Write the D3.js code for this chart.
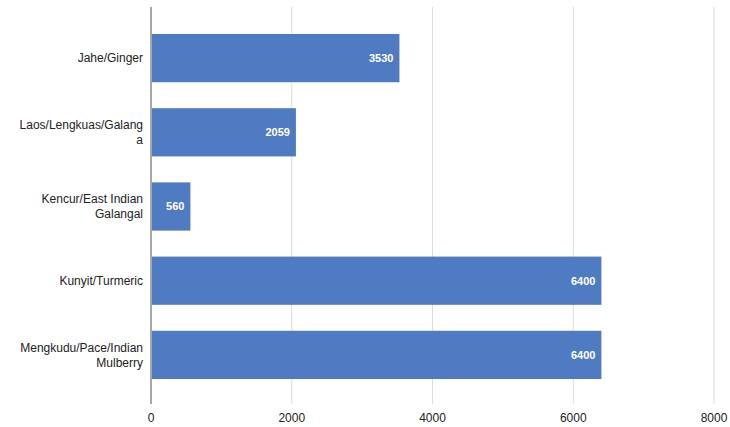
<!DOCTYPE html>
<html>
<head>
<meta charset="utf-8">
<script src="https://cdn.jsdelivr.net/npm/d3@7"></script>
<style>
html,body{margin:0;padding:0;background:#fff;}
svg{display:block;}
</style>
</head>
<body>
<svg id="chart" width="730" height="427"></svg>
<script>
const categories = [
  ["Jahe/Ginger"],
  ["Laos/Lengkuas/Galang", "a"],
  ["Kencur/East Indian", "Galangal"],
  ["Kunyit/Turmeric"],
  ["Mengkudu/Pace/Indian", "Mulberry"]
];
const values = [3530, 2059, 560, 6400, 6400];
const valueLabels = ["3530", "2059", "560", "6400", "6400"];
const xTicks = [0, 2000, 4000, 6000, 8000];

const svg = d3.select("#chart");
const font = "'Liberation Sans', Arial, sans-serif";

const x = d3.scaleLinear().domain([0, 8000]).range([151, 714]);
const y = d3.scaleBand().domain(d3.range(categories.length)).range([21, 392]).paddingInner(0.35).paddingOuter(0.175);

const plotTop = 7, plotBottom = 404;

// gridlines
svg.append("g").selectAll("line").data(xTicks.filter(d => d > 0)).join("line")
  .attr("x1", d => x(d)).attr("x2", d => x(d))
  .attr("y1", plotTop).attr("y2", plotBottom)
  .attr("stroke", "#dcdcdc").attr("stroke-width", 1);

// bars
svg.append("g").selectAll("rect").data(values).join("rect")
  .attr("x", x(0))
  .attr("y", (d, i) => y(i))
  .attr("width", d => x(d) - x(0))
  .attr("height", y.bandwidth())
  .attr("fill", "#4f7bc3");

// value labels
svg.append("g").selectAll("text").data(values).join("text")
  .attr("x", d => x(d) - 6)
  .attr("y", (d, i) => y(i) + y.bandwidth() / 2)
  .attr("dy", "0.35em")
  .attr("text-anchor", "end")
  .attr("fill", "#fff")
  .attr("font-family", font)
  .attr("font-weight", "bold")
  .attr("font-size", 11)
  .text((d, i) => valueLabels[i]);

// axis line
svg.append("line")
  .attr("x1", x(0)).attr("x2", x(0))
  .attr("y1", plotTop).attr("y2", plotBottom)
  .attr("stroke", "#a8a8a8").attr("stroke-width", 2);

// category labels
const lh = 15;
const cat = svg.append("g").selectAll("text").data(categories).join("text")
  .attr("text-anchor", "end")
  .attr("fill", "#222")
  .attr("font-family", font)
  .attr("font-size", 12)
  .attr("transform", (d, i) => `translate(143,${y(i) + y.bandwidth() / 2})`);
cat.each(function(lines) {
  const t = d3.select(this);
  const n = lines.length;
  lines.forEach((l, k) => {
    t.append("tspan").attr("x", 0)
      .attr("y", (k - (n - 1) / 2) * lh)
      .attr("dy", "0.35em")
      .text(l);
  });
});

// x axis tick labels
svg.append("g").selectAll("text").data(xTicks).join("text")
  .attr("x", d => x(d))
  .attr("y", 418)
  .attr("dy", "0.35em")
  .attr("text-anchor", "middle")
  .attr("fill", "#222")
  .attr("font-family", font)
  .attr("font-size", 12)
  .text(d => d);
</script>
</body>
</html>
